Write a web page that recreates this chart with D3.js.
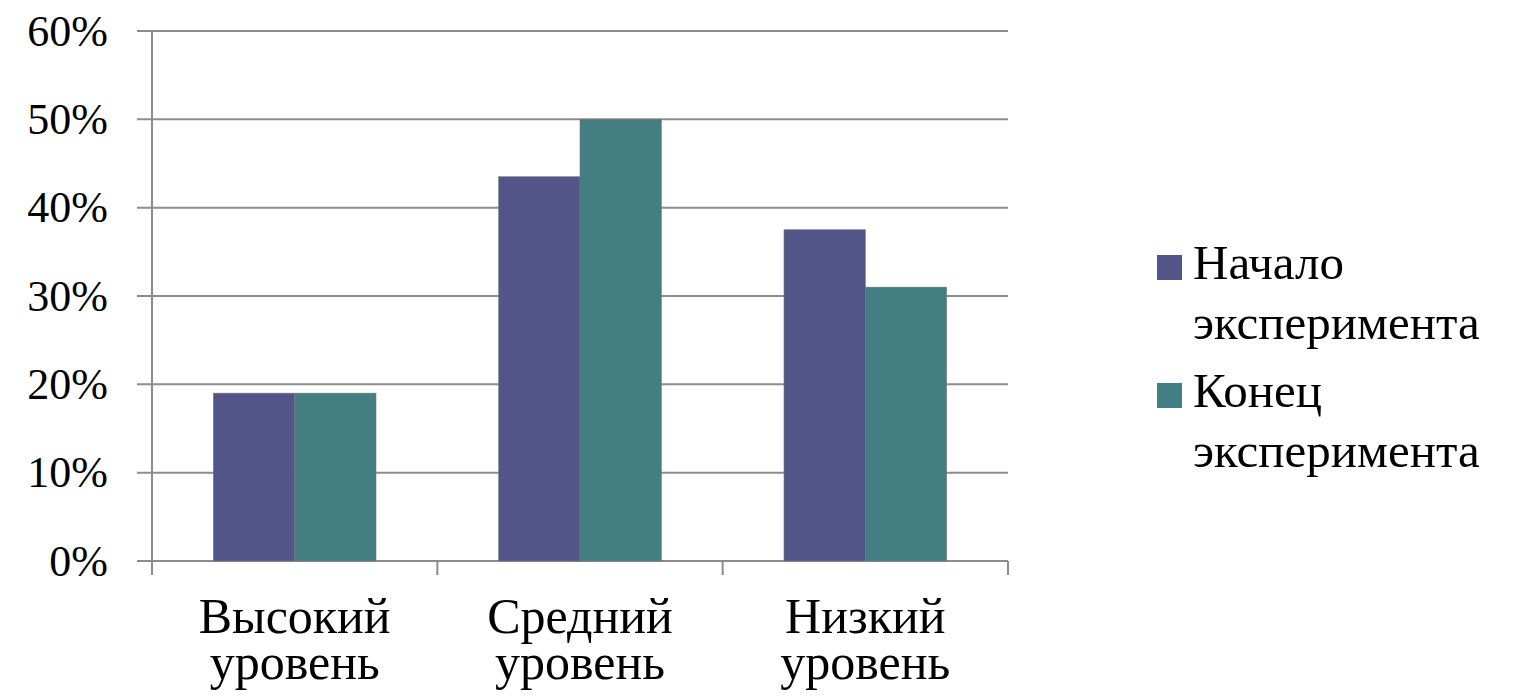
<!DOCTYPE html>
<html>
<head>
<meta charset="utf-8">
<script src="https://cdn.jsdelivr.net/npm/d3@7"></script>
</head>
<body style="margin:0;background:#fff">
<svg id="area" width="1513" height="698"></svg>
<script>
const categories = [["Высокий", "уровень"], ["Средний", "уровень"], ["Низкий", "уровень"]];
const seriesNames = [["Начало", "эксперимента"], ["Конец", "эксперимента"]];
const startValues = [0.19, 0.435, 0.375];
const endValues = [0.19, 0.50, 0.31];
const yTicks = [0, 0.1, 0.2, 0.3, 0.4, 0.5, 0.6];
const colors = ["#535488", "#437e82"];

const plotLeft = 152, plotRight = 1008, plotTop = 31, plotBottom = 561;

function serif(sel, size) {
  return sel.attr("font-size", size)
    .style("font-family", d => '"Liberation Serif"');
}

const draw = () => {
  const svg = d3.select("#area");
  svg.selectAll("*").remove();

  const x = d3.scaleBand().domain(d3.range(categories.length))
    .range([plotLeft, plotRight]).paddingInner(0.43).paddingOuter(0.215);
  const xs = d3.scaleBand().domain([0, 1]).range([0, x.bandwidth()]);
  const y = d3.scaleLinear().domain([0, 0.6]).range([plotBottom, plotTop]);

  // grid
  svg.append("g").selectAll("line").data(yTicks).join("line")
    .attr("x1", plotLeft - 15).attr("x2", plotRight)
    .attr("y1", d => y(d)).attr("y2", d => y(d))
    .attr("stroke", "#8c8c8c").attr("stroke-width", 2);

  // bars
  [startValues, endValues].forEach((vals, s) => {
    svg.append("g").selectAll("rect").data(vals).join("rect")
      .attr("x", (d, i) => x(i) + xs(s))
      .attr("width", xs.bandwidth())
      .attr("y", d => y(d))
      .attr("height", d => y(0) - y(d))
      .attr("fill", colors[s])
      .attr("stroke", "#777").attr("stroke-width", 0.6);
  });

  // y labels
  svg.append("g").selectAll("text").data(yTicks).join("text")
    .attr("x", plotLeft - 44).attr("y", d => y(d)).attr("dy", "0.33em")
    .attr("text-anchor", "end")
    .call(serif, 44)
    .text(d3.format(".0%"));
  svg.append("line").attr("x1", plotLeft).attr("x2", plotLeft).attr("y1", plotTop).attr("y2", plotBottom + 14)
    .attr("stroke", "#8c8c8c").attr("stroke-width", 2);

  // x ticks at category boundaries
  const bounds = d3.range(categories.length + 1).map(i => plotLeft + i * x.step());
  svg.append("g").selectAll("line").data(bounds).join("line")
    .attr("x1", d => d).attr("x2", d => d).attr("y1", plotBottom).attr("y2", plotBottom + 14)
    .attr("stroke", "#8c8c8c").attr("stroke-width", 2);

  // category labels
  const catLines = categories.flatMap((lines, i) => lines.map((t, j) => ({i, j, t})));
  svg.append("g").selectAll("text").data(catLines).join("text")
    .attr("x", d => x(d.i) + x.bandwidth() / 2).attr("y", d => 633 + d.j * 46)
    .attr("text-anchor", "middle")
    .call(serif, 50)
    .text(d => d.t);

  // legend
  const lg = svg.append("g").attr("transform", "translate(1157,0)");
  lg.selectAll("rect").data(colors).join("rect")
    .attr("x", 0).attr("y", (d, s) => 255 + s * 128).attr("width", 25).attr("height", 25)
    .attr("fill", d => d);
  const legLines = seriesNames.flatMap((lines, s) => lines.map((t, j) => ({s, j, t})));
  lg.selectAll("text").data(legLines).join("text")
    .attr("x", 36).attr("y", d => 279 + d.s * 128 + d.j * 60)
    .call(serif, 49)
    .text(d => d.t);
};

draw();
if (document.fonts) {
  document.fonts.load('50px "Liberation Serif"', "Высокий 60%").then(draw).catch(() => {});
}
</script>
</body>
</html>
